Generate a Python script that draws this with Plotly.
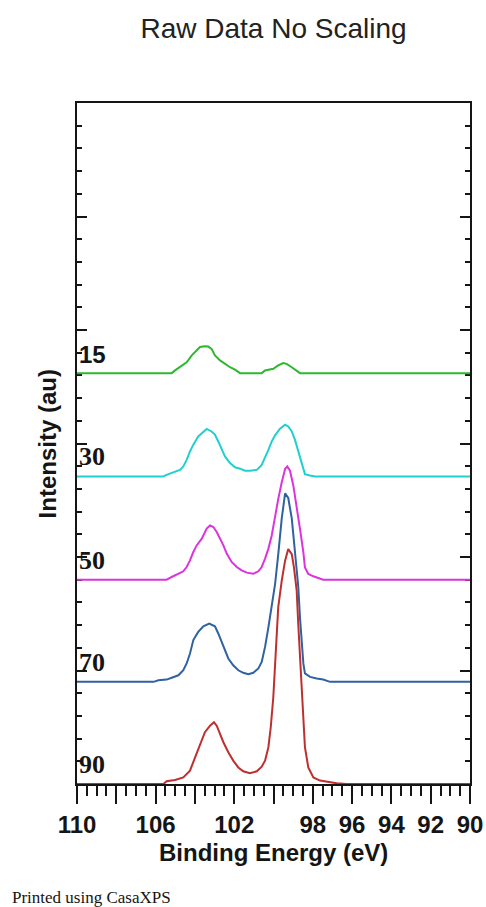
import plotly.graph_objects as go

# ---- data (binding energy in eV, intensity above each curve's baseline, arbitrary units) ----
labels = ["15", "30", "50", "70", "90"]
offsets = [18.1, 13.55, 9.0, 4.5, 0.0]
colors = ["#2DB82D", "#22CFCF", "#DD33DD", "#2F62A0", "#BE2F2F"]

green_be = [110.0, 105.18, 105.01, 104.67, 104.42, 104.16, 103.99, 103.74, 103.5, 103.32, 103.15,
            102.98, 102.72, 102.47, 102.21, 101.96, 101.70, 100.60, 100.43, 100.01, 99.76, 99.50,
            99.33, 99.07, 98.82, 98.65, 90.0]
green_i = [0, 0, 0.12, 0.34, 0.48, 0.78, 0.93, 1.15, 1.18, 1.17, 1.07,
           0.78, 0.56, 0.41, 0.26, 0.15, 0, 0, 0.12, 0.19, 0.34, 0.44,
           0.41, 0.26, 0.09, 0, 0]

cyan_be = [110.0, 105.61, 105.35, 105.01, 104.76, 104.59, 104.42, 104.25, 104.08, 103.83, 103.57,
           103.40, 103.15, 102.98, 102.81, 102.64, 102.47, 102.21, 101.96, 101.70, 101.45, 101.20,
           100.85, 100.60, 100.43, 100.26, 100.09, 99.92, 99.67, 99.41, 99.25, 99.07, 98.91,
           98.74, 98.56, 98.40, 98.14, 97.89, 90.0]
cyan_i = [0, 0, 0.10, 0.19, 0.29, 0.44, 0.73, 1.10, 1.40, 1.76, 1.98,
          2.09, 1.98, 1.84, 1.54, 1.17, 0.88, 0.59, 0.40, 0.34, 0.25, 0.25,
          0.29, 0.51, 0.81, 1.17, 1.54, 1.81, 2.10, 2.28, 2.20, 1.98, 1.62,
          1.10, 0.51, 0.10, 0.04, 0, 0]

magenta_be = [110.0, 105.44, 105.18, 104.84, 104.59, 104.42, 104.25, 104.08, 103.91, 103.65, 103.40,
              103.23, 103.06, 102.89, 102.72, 102.55, 102.38, 102.13, 101.87, 101.62, 101.36, 101.03,
              100.77, 100.60, 100.43, 100.26, 100.09, 99.92, 99.76, 99.58, 99.41, 99.30, 99.16,
              98.99, 98.82, 98.65, 98.48, 98.40, 98.23, 97.97, 97.47, 90.0]
magenta_i = [0, 0, 0.12, 0.26, 0.37, 0.56, 0.85, 1.22, 1.51, 1.81, 2.25,
             2.39, 2.32, 2.10, 1.81, 1.51, 1.15, 0.78, 0.56, 0.41, 0.31, 0.26,
             0.37, 0.56, 0.93, 1.37, 1.95, 2.83, 3.55, 4.29, 4.88, 4.99, 4.80,
             4.14, 3.26, 2.23, 1.20, 0.54, 0.25, 0.15, 0, 0]

blue_be = [110.0, 106.1, 105.86, 105.44, 105.18, 104.84, 104.59, 104.42, 104.25, 104.08, 103.83,
           103.57, 103.27, 102.98, 102.81, 102.64, 102.47, 102.30, 102.05, 101.79, 101.54, 101.28,
           101.03, 100.77, 100.60, 100.43, 100.26, 100.09, 99.92, 99.76, 99.58, 99.41, 99.25,
           99.07, 98.91, 98.74, 98.65, 98.56, 98.48, 98.40, 98.14, 97.80, 97.47, 97.12, 90.0]
blue_i = [0, 0, 0.07, 0.10, 0.18, 0.29, 0.51, 0.81, 1.25, 1.84, 2.20,
          2.45, 2.57, 2.45, 2.13, 1.76, 1.40, 1.03, 0.73, 0.51, 0.40, 0.34,
          0.40, 0.59, 0.88, 1.54, 2.40, 3.30, 4.30, 5.60, 7.20, 8.30, 8.10,
          7.20, 5.70, 4.20, 2.80, 1.60, 0.80, 0.37, 0.22, 0.15, 0.10, 0, 0]

red_be = [110.0, 105.6, 105.44, 105.01, 104.59, 104.25, 103.99, 103.74, 103.49, 103.23, 103.03,
          102.89, 102.72, 102.55, 102.30, 102.05, 101.79, 101.54, 101.20, 100.85, 100.60, 100.43,
          100.26, 100.14, 100.01, 99.92, 99.84, 99.76, 99.58, 99.41, 99.25, 99.07, 98.96,
          98.82, 98.74, 98.65, 98.56, 98.48, 98.40, 98.23, 97.97, 97.63, 97.12, 96.78, 96.28, 90.0]
red_i = [0, 0, 0.12, 0.18, 0.29, 0.59, 1.17, 1.76, 2.28, 2.57, 2.72,
         2.57, 2.20, 1.84, 1.40, 1.03, 0.73, 0.56, 0.47, 0.56, 0.76, 1.03,
         1.62, 2.50, 3.82, 5.14, 6.31, 7.78, 8.96, 9.84, 10.35, 10.13, 9.54,
         8.52, 7.05, 5.58, 4.11, 2.64, 1.62, 0.73, 0.29, 0.15, 0.07, 0.03, 0, 0]

x_tick_vals = [110, 108, 106, 104, 102, 100, 98, 96, 94, 92, 90]
x_tick_text = ["110", "", "106", "", "102", "", "98", "96", "94", "92", "90"]

series_be = [green_be, cyan_be, magenta_be, blue_be, red_be]
series_i = [green_i, cyan_i, magenta_i, blue_i, red_i]

fig = go.Figure()
for be, inten, off, col, lab in zip(series_be, series_i, offsets, colors, labels):
    fig.add_trace(go.Scatter(x=be, y=[v + off for v in inten], mode="lines",
                             line=dict(color=col, width=2), name=lab, showlegend=False))

ink = "#151515"
sans_b = dict(family="Liberation Sans, Arial, sans-serif", size=24, color=ink, weight="bold")

annotations = []
for lab, off in zip(labels, offsets):
    if lab == "15":
        f = dict(family="Liberation Sans, Arial, sans-serif", size=24, color=ink, weight="bold")
    else:
        f = dict(family="Liberation Serif, Times New Roman, serif", size=26, color=ink, weight="bold")
    annotations.append(dict(x=110, y=off, xref="x", yref="y", text=lab, showarrow=False,
                            xanchor="left", yanchor="bottom", xshift=0, yshift=3, font=f))
annotations.append(dict(x=0.5, y=-0.1013, xref="paper", yref="paper", text="Binding Energy (eV)",
                        showarrow=False, xanchor="center", yanchor="middle", font=sans_b))
annotations.append(dict(x=-0.074, y=0.5, xref="paper", yref="paper", text="Intensity (au)",
                        showarrow=False, xanchor="center", yanchor="middle", textangle=-90,
                        font=sans_b))
annotations.append(dict(x=-0.1705, y=-0.166, xref="paper", yref="paper", text="Printed using CasaXPS",
                        showarrow=False, xanchor="left", yanchor="middle",
                        font=dict(family="Liberation Serif, Times New Roman, serif", size=17, color=ink)))

fig.update_layout(
    width=486, height=907,
    margin=dict(l=77, r=16, t=103, b=123),
    paper_bgcolor="white", plot_bgcolor="white",
    title=dict(text="Raw Data No Scaling", x=0.5, xref="paper", y=1 - 28 / 907, yref="container",
               xanchor="center", yanchor="middle",
               font=dict(family="Liberation Sans, Arial, sans-serif", size=28, color="#222")),
    annotations=annotations,
)

fig.update_xaxes(
    range=[110, 90], tickvals=x_tick_vals, ticktext=x_tick_text,
    ticks="outside", ticklen=18, tickwidth=2, tickcolor=ink,
    minor=dict(dtick=0.5, ticks="outside", ticklen=10, tickwidth=2, tickcolor=ink),
    showline=True, linewidth=2, linecolor=ink, mirror=True,
    showgrid=False, zeroline=False, layer="below traces",
    tickfont=sans_b, automargin=False,
)
fig.update_yaxes(
    range=[0, 30], tick0=0, dtick=5,
    ticks="inside", ticklen=10, tickwidth=2, tickcolor=ink,
    minor=dict(dtick=1, ticks="inside", ticklen=5, tickwidth=2, tickcolor=ink),
    showticklabels=False,
    showline=True, linewidth=2, linecolor=ink, mirror="ticks",
    showgrid=False, zeroline=False, layer="below traces", automargin=False,
)

fig.write_html("out.html", config={"displayModeBar": False},
               post_script="document.body.style.margin='0';document.body.style.overflow='hidden';")
